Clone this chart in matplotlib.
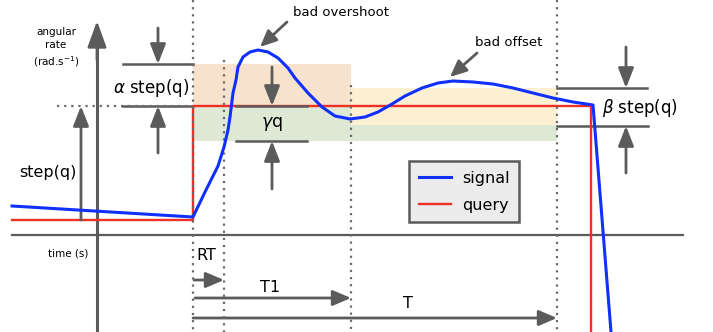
import matplotlib.pyplot as plt
from matplotlib.patches import Rectangle

# Diagram drawn in a 713 x 332 canvas space (y grows downward)
W, H = 713, 332

# Response signal (time, rate) and step query
signal_t = [12, 193, 205, 218, 224, 228, 230, 233, 236, 238, 243, 250, 258, 268,
            278, 288, 295, 308, 322, 335, 350, 365, 378, 392, 405, 422, 438, 453,
            473, 493, 513, 533, 553, 573, 593, 611]
signal_v = [206, 217, 192, 166, 147, 130, 117, 93, 80, 67, 57, 52, 50, 52,
            58, 68, 78, 93, 107, 116, 119, 117, 112, 104, 96, 88, 83, 81,
            82, 84, 88, 93, 98, 102, 105, 332]
query_t = [12, 193, 193, 591, 591]
query_v = [220, 220, 106, 106, 332]

# Tolerance bands: (t0, t1, top, bottom, colour)
bands = [
    (193, 351, 64, 106, '#f6e2cd'),
    (193, 557, 106, 141, '#dde9d4'),
    (351, 557, 88, 125, '#fcefd2'),
]
# Dotted time markers: (t, top)
markers = [(193, 0), (224, 60), (351, 85), (557, 0)]

GREY = '#5b5b5b'
DOT = '#6a6a6a'

fig = plt.figure(figsize=(W / 100, H / 100), dpi=100)
ax = fig.add_axes([0, 0, 1, 1])
ax.set_xlim(0, W)
ax.set_ylim(H, 0)
ax.axis('off')


def arrow(x0, y0, x1, y1, hl=1.2, hw=0.47, lw=2.0, ms=10):
    ax.annotate('', xy=(x1, y1), xytext=(x0, y0),
                arrowprops=dict(arrowstyle='-|>,head_length=%g,head_width=%g' % (hl, hw),
                                color=GREY, lw=lw, shrinkA=0, shrinkB=0,
                                mutation_scale=ms))


for t0, t1, top, bot, c in bands:
    ax.add_patch(Rectangle((t0, top), t1 - t0, bot - top, color=c, lw=0, zorder=0))

for t, top in markers:
    ax.plot([t, t], [top, H], color=DOT, lw=1.6, ls=(0, (1, 2.2)), zorder=4)
ax.plot([57, 193], [106, 106], color=DOT, lw=1.6, ls=(0, (1, 2.2)), zorder=4)

# axes
ax.plot([12, 683], [235, 235], color=GREY, lw=1.6, zorder=2)
ax.plot([97, 97], [H, 40], color=GREY, lw=2.2, zorder=2)
arrow(97, 60, 97, 21, hl=1.6, hw=0.58)

sig, = ax.plot(signal_t, signal_v, color='#1030ff', lw=2.2, zorder=5,
               solid_joinstyle='round', label='signal')
qry, = ax.plot(query_t, query_v, color='#ee3124', lw=1.7, zorder=3, label='query')

# step(q)
arrow(81, 220, 81, 106)
ax.text(48, 172, 'step(q)', fontsize=11.5, ha='center', va='center')

# alpha band
ax.plot([123, 193], [64, 64], color=GREY, lw=1.8)
ax.plot([123, 193], [106, 106], color=GREY, lw=1.8)
arrow(158, 28, 158, 64)
arrow(158, 153, 158, 106)
ax.text(151, 88, r'$\alpha$ step(q)', fontsize=12, ha='center', va='center')

# gamma band
ax.plot([236, 307], [106, 106], color=GREY, lw=1.8, zorder=6)
ax.plot([236, 307], [141, 141], color=GREY, lw=1.8, zorder=6)
arrow(272, 67, 272, 106)
arrow(272, 189, 272, 141)
ax.text(272, 124, r'$\gamma$q', fontsize=12.5, ha='center', va='center')

# beta band
ax.plot([557, 647], [88, 88], color=GREY, lw=1.8)
ax.plot([557, 648], [126, 126], color=GREY, lw=1.8)
arrow(626, 47, 626, 88)
arrow(626, 173, 626, 126)
ax.text(640, 108, r'$\beta$ step(q)', fontsize=12, ha='center', va='center')

# axis labels
ax.text(56, 48, 'angular\nrate\n(rad.s$^{-1}$)', fontsize=7.5, ha='center',
        va='center', linespacing=1.35)
ax.text(68, 254, 'time (s)', fontsize=7.5, ha='center', va='center')

# annotations
ax.text(341, 13, 'bad overshoot', fontsize=9.5, ha='center', va='center')
arrow(287, 22, 260, 47, hl=1.0, hw=0.45)
ax.text(509, 43, 'bad offset', fontsize=9.5, ha='center', va='center')
arrow(477, 53, 450, 77, hl=1.0, hw=0.45)

# durations
ax.text(206, 256, 'RT', fontsize=11.5, ha='center', va='center')
arrow(194, 280, 224, 280, hl=1.1)
ax.text(270, 287, 'T1', fontsize=11.5, ha='center', va='center')
arrow(195, 298, 351, 298, hl=1.1)
ax.text(408, 303, 'T', fontsize=11.5, ha='center', va='center')
arrow(193, 318, 557, 318, hl=1.1)

leg = ax.legend(handles=[sig, qry], loc='upper left',
                bbox_to_anchor=(409 / W, 1 - 161 / H),
                fontsize=11.5, frameon=True, fancybox=False, handlelength=2.0,
                borderpad=0.6, labelspacing=0.75, handletextpad=0.7,
                borderaxespad=0)
leg.get_frame().set_facecolor('#ececec')
leg.get_frame().set_edgecolor(GREY)
leg.get_frame().set_linewidth(1.8)
leg.get_frame().set_alpha(1)

fig.savefig('out.png', dpi=100)
